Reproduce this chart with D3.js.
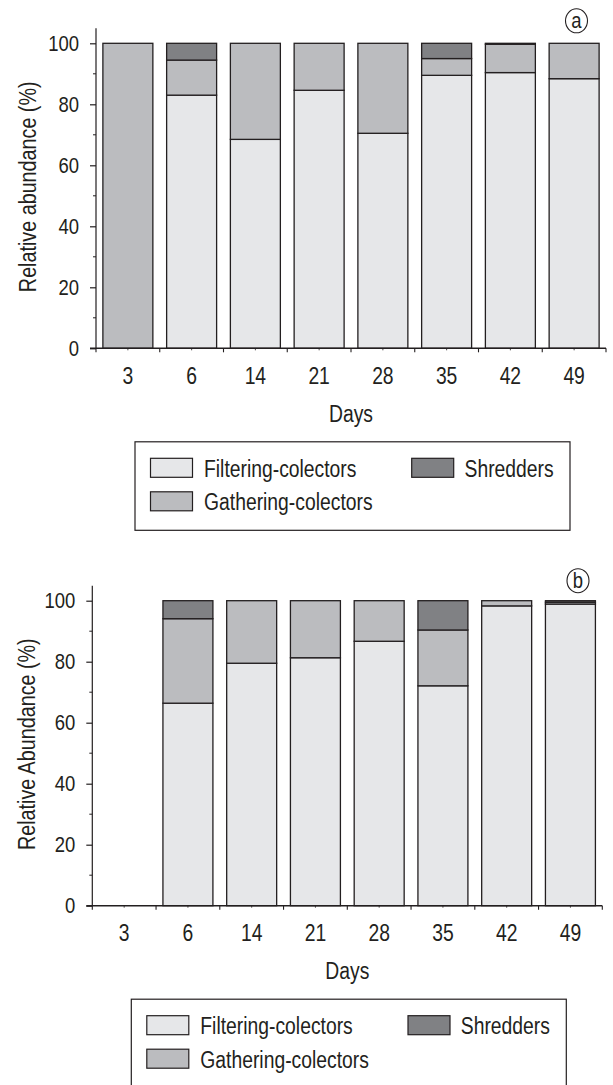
<!DOCTYPE html>
<html>
<head>
<meta charset="utf-8">
<script src="https://cdn.jsdelivr.net/npm/d3@7"></script>
<style>
  body { margin: 0; background: #fff; }
  svg text { font-family: "Liberation Sans", Arial, sans-serif; fill: #231f20; }
</style>
</head>
<body>
<svg id="chart" width="613" height="1085"></svg>
<script>
// Datos (porcentaje de abundancia relativa)
const days = ["3", "6", "14", "21", "28", "35", "42", "49"];
const groups = ["Filtering-colectors", "Gathering-colectors", "Shredders"];
const groupColors = ["#e6e7e9", "#bbbcbf", "#808184"];

// panel a
const filteringA = [0, 83.0, 68.5, 84.6, 70.5, 89.5, 90.4, 88.4];
const gatheringA = [100, 11.5, 31.5, 15.4, 29.5, 5.5, 9.3, 11.6];
const shreddersA = [0, 5.5, 0, 0, 0, 5.0, 0.3, 0];

// panel b
const filteringB = [0, 66.4, 79.5, 81.3, 86.7, 72.1, 98.3, 98.9];
const gatheringB = [0, 27.7, 20.5, 18.7, 13.3, 18.3, 1.7, 0.6];
const shreddersB = [0, 5.9, 0, 0, 0, 9.6, 0, 0.5];

const yTicks = [0, 20, 40, 60, 80, 100];
const yMinorTicks = [10, 30, 50, 70, 90];

const ink = "#231f20";
const W = 510, H = 305;
const narrow = 0.84; // la figura usa una letra condensada

// estrecha el texto (no hay fuente "narrow" instalada)
function condense(sel) {
  sel.each(function() {
    const len = this.getComputedTextLength();
    d3.select(this)
      .attr("textLength", len * narrow)
      .attr("lengthAdjust", "spacingAndGlyphs");
  });
}

function buildRows(f, g, s) {
  return days.map((d, i) => ({
    day: d,
    [groups[0]]: f[i],
    [groups[1]]: g[i],
    [groups[2]]: s[i]
  }));
}

function drawPanel(svg, rows, opts) {
  const g = svg.append("g").attr("transform", `translate(${opts.left},${opts.top})`);

  const x = d3.scaleBand().domain(days).range([0, W])
    .paddingInner(0.216).paddingOuter(0.108);
  const y = d3.scaleLinear().domain([0, 100]).range([H, 0]);
  const color = d3.scaleOrdinal().domain(groups).range(groupColors);

  const series = d3.stack().keys(groups)(rows);

  // barras apiladas
  g.selectAll(".layer")
    .data(series)
    .enter()
    .append("g")
    .attr("fill", d => color(d.key))
    .selectAll("rect")
    .data(d => d.filter(p => p[1] - p[0] > 0))
    .enter()
    .append("rect")
    .attr("x", d => x(d.data.day))
    .attr("width", x.bandwidth())
    .attr("y", d => y(d[1]))
    .attr("height", d => y(d[0]) - y(d[1]))
    .attr("stroke", ink)
    .attr("stroke-width", 1.3);

  // eje Y
  const yAxis = g.append("g")
    .call(d3.axisLeft(y).tickValues(yTicks).tickSize(6).tickPadding(11));
  yAxis.select(".domain").remove();
  yAxis.selectAll(".tick line").attr("stroke", ink).attr("stroke-width", 1.2);
  yAxis.selectAll(".tick text").attr("font-size", 22).attr("fill", ink)
    .style("font-family", '"Liberation Sans", Arial, sans-serif')
    .call(condense);
  g.selectAll(".yminor")
    .data(yMinorTicks)
    .enter()
    .append("line")
    .attr("x1", -3).attr("x2", 0)
    .attr("y1", d => y(d)).attr("y2", d => y(d))
    .attr("stroke", ink).attr("stroke-width", 1);
  g.append("line")
    .attr("x1", 0).attr("x2", 0)
    .attr("y1", -15).attr("y2", H)
    .attr("stroke", ink).attr("stroke-width", 1.2);

  // eje X
  g.append("line")
    .attr("x1", -6).attr("x2", W)
    .attr("y1", H).attr("y2", H)
    .attr("stroke", ink).attr("stroke-width", 1.5);
  const step = x.step();
  g.selectAll(".xmajor")
    .data(d3.range(days.length + 1))
    .enter()
    .append("line")
    .attr("x1", i => i * step).attr("x2", i => i * step)
    .attr("y1", H).attr("y2", H + 4)
    .attr("stroke", ink).attr("stroke-width", 1.1);
  g.selectAll(".xminor")
    .data(days)
    .enter()
    .append("line")
    .attr("x1", d => x(d) + x.bandwidth() / 2).attr("x2", d => x(d) + x.bandwidth() / 2)
    .attr("y1", H).attr("y2", H + 2)
    .attr("stroke", ink).attr("stroke-width", 0.8);
  g.selectAll(".xlabel")
    .data(days)
    .enter()
    .append("text")
    .attr("x", d => x(d) + x.bandwidth() / 2)
    .attr("y", H + 35.5)
    .attr("text-anchor", "middle")
    .attr("font-size", 23)
    .text(d => d)
    .call(condense);

  g.append("text")
    .attr("x", W / 2)
    .attr("y", H + 73.5)
    .attr("text-anchor", "middle")
    .attr("font-size", 23)
    .text("Days")
    .call(condense);

  g.append("text")
    .attr("transform", "rotate(-90)")
    .attr("x", -(H / 2) + 9)
    .attr("y", opts.labelX)
    .attr("text-anchor", "middle")
    .attr("font-size", 23.5)
    .text(opts.yLabel)
    .call(condense);

  // letra del panel
  g.append("ellipse")
    .attr("cx", opts.tagX).attr("cy", opts.tagY)
    .attr("rx", 11).attr("ry", 12)
    .attr("fill", "none").attr("stroke", ink).attr("stroke-width", 1.1);
  g.append("text")
    .attr("x", opts.tagX).attr("y", opts.tagY + 7.5)
    .attr("text-anchor", "middle")
    .attr("font-size", 22)
    .text(opts.tag)
    .call(condense);

  // leyenda
  const lg = g.append("g").attr("transform", `translate(39,${H + 93.5})`);
  lg.append("rect")
    .attr("width", 435).attr("height", 88.5)
    .attr("fill", "none").attr("stroke", ink).attr("stroke-width", 1.2);
  const legendPos = [
    { sx: 15.5, sy: 16.5, tx: 69, ty: 35 },
    { sx: 15.5, sy: 50, tx: 69, ty: 68.5 },
    { sx: 276.7, sy: 16.5, tx: 329.5, ty: 35 }
  ];
  groups.forEach((k, i) => {
    const p = legendPos[i];
    lg.append("rect")
      .attr("x", p.sx).attr("y", p.sy)
      .attr("width", 42).attr("height", 19)
      .attr("fill", color(k)).attr("stroke", ink).attr("stroke-width", 1.2);
    lg.append("text")
      .attr("x", p.tx).attr("y", p.ty)
      .attr("font-size", 23)
      .text(k)
      .call(condense);
  });
}

const svg = d3.select("#chart");

drawPanel(svg, buildRows(filteringA, gatheringA, shreddersA), {
  left: 96, top: 43.3, yLabel: "Relative abundance (%)", labelX: -60,
  tag: "a", tagX: 480.5, tagY: -22.5
});

drawPanel(svg, buildRows(filteringB, gatheringB, shreddersB), {
  left: 92.3, top: 600.7, yLabel: "Relative Abundance (%)", labelX: -57,
  tag: "b", tagX: 485.7, tagY: -20
});
</script>
</body>
</html>
